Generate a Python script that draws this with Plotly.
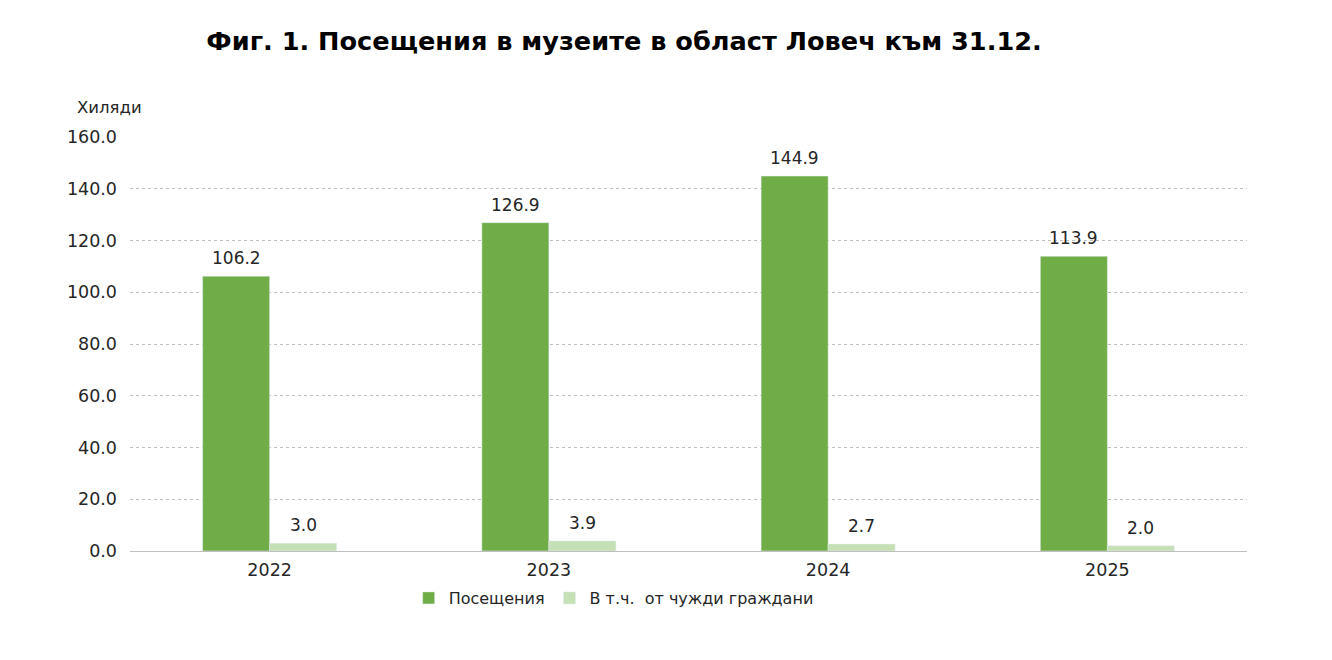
import plotly.graph_objects as go

# данни
years = ["2022", "2023", "2024", "2025"]
posesht = [106.2, 126.9, 144.9, 113.9]
chuzhdi = [3.0, 3.9, 2.7, 2.0]
y_ticks = [0, 20, 40, 60, 80, 100, 120, 140, 160]

ZELENO = "#70AD47"
SVETLO = "#C5E0B4"
SHRIFT = "Verdana, DejaVu Sans, sans-serif"
TEKST = "#262626"

fig = go.Figure()

fig.add_trace(go.Bar(x=years, y=posesht, name="Посещения", marker_color=ZELENO))
fig.add_trace(go.Bar(x=years, y=chuzhdi, name="В т.ч.  от чужди граждани", marker_color=SVETLO))

# етикети над колоните (малко по-високо от стандартния "outside")
# при категорийна ос годините като низ се четат като числа, затова се ползва индексът
POL_KOLONA = 33.5  # половин ширина на колона в пиксели
etiketi = []
for serija, pomestvane in ((posesht, -POL_KOLONA), (chuzhdi, POL_KOLONA)):
    for i, v in enumerate(serija):
        etiketi.append(dict(x=i, y=v, text=f"{v:.1f}", showarrow=False,
                            xanchor="center", yanchor="bottom",
                            xshift=pomestvane, yshift=6,
                            font=dict(size=17, color=TEKST)))

etiketi.append(dict(text="Хиляди", xref="paper", yref="paper", x=-0.049, y=1.072,
                    xanchor="left", yanchor="middle", showarrow=False,
                    font=dict(size=16.5, color=TEKST)))

# страницата има 8px отстъп, затова полетата са намалени
fig.update_layout(
    width=1332, height=660,
    barmode="group", bargap=0.52, bargroupgap=0,
    plot_bgcolor="white", paper_bgcolor="white",
    margin=dict(l=122, r=93, t=129, b=117),
    font=dict(family=SHRIFT, size=17, color=TEKST),
    title=dict(text="<b>Фиг. 1. Посещения в музеите в област Ловеч към 31.12.</b>",
               x=0.4625, xanchor="center", y=0.95, yanchor="middle",
               font=dict(size=25.6, color="black", family=SHRIFT)),
    legend=dict(orientation="h", x=0.433, xanchor="center", y=-0.1135, yanchor="middle",
                font=dict(size=16, color=TEKST), itemwidth=30,
                traceorder="normal"),
    annotations=etiketi,
)

fig.update_xaxes(type="category", range=[-0.5, 3.5], showline=False, ticks="",
                 ticklabelstandoff=6, tickfont=dict(size=17.5, color=TEKST))
fig.update_yaxes(range=[0, 160], tickvals=y_ticks, tickformat=".1f",
                 showgrid=True, gridcolor="#BFBFBF", griddash="dot", gridwidth=1,
                 zeroline=True, zerolinecolor="#BFBFBF", zerolinewidth=1,
                 ticks="", ticklabelstandoff=12,
                 tickfont=dict(size=17.5, color=TEKST))

fig.write_html("out.html")
